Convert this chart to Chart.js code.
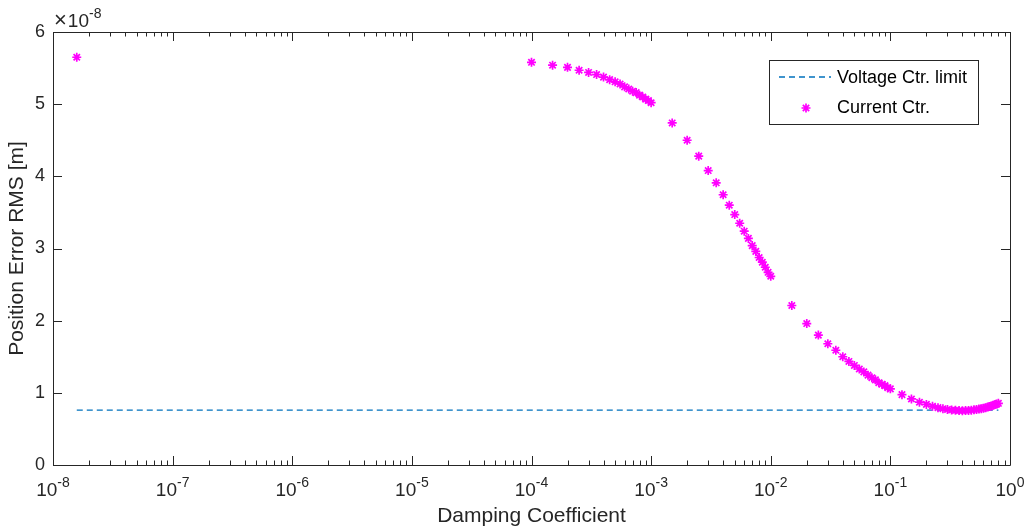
<!DOCTYPE html>
<html>
<head>
<meta charset="utf-8">
<script src="https://cdn.jsdelivr.net/npm/chart.js@4.4.1/dist/chart.umd.min.js"></script>
<style>
  body { margin: 0; background: #fff; }
  #wrap { width: 1030px; height: 532px; }
</style>
</head>
<body>
<div id="wrap"><canvas id="chart" width="1030" height="532"></canvas></div>
<script>
// values are in units of 1e-8 m (axis multiplier shown top-left)
const dampingCoeffs = [
  1.58e-8,
  1e-4, 1.5e-4, 2e-4, 2.5e-4, 3e-4, 3.5e-4, 4e-4, 4.5e-4, 5e-4, 5.5e-4,
  6e-4, 6.5e-4, 7e-4, 7.5e-4, 8e-4, 8.5e-4, 9e-4, 9.5e-4, 1e-3,
  1.5e-3, 2e-3, 2.5e-3, 3e-3, 3.5e-3, 4e-3, 4.5e-3, 5e-3, 5.5e-3,
  6e-3, 6.5e-3, 7e-3, 7.5e-3, 8e-3, 8.5e-3, 9e-3, 9.5e-3, 1e-2,
  1.5e-2, 2e-2, 2.5e-2, 3e-2, 3.5e-2, 4e-2, 4.5e-2, 5e-2, 5.5e-2,
  6e-2, 6.5e-2, 7e-2, 7.5e-2, 8e-2, 8.5e-2, 9e-2, 9.5e-2, 1e-1,
  0.125, 0.15, 0.175, 0.2, 0.225, 0.25, 0.275, 0.3, 0.325, 0.35,
  0.375, 0.4, 0.425, 0.45, 0.475, 0.5, 0.525, 0.55, 0.575, 0.6,
  0.625, 0.65, 0.675, 0.7, 0.725, 0.75, 0.775, 0.8
];
const positionErrorRms = [
  5.65,
  5.58, 5.54, 5.51, 5.47, 5.44, 5.41, 5.375, 5.34, 5.31, 5.28,
  5.24, 5.21, 5.18, 5.16, 5.125, 5.10, 5.07, 5.05, 5.02,
  4.74, 4.50, 4.28, 4.08, 3.91, 3.745, 3.60, 3.47, 3.35,
  3.24, 3.14, 3.04, 2.96, 2.875, 2.81, 2.74, 2.67, 2.615,
  2.21, 1.96, 1.80, 1.68, 1.59, 1.50, 1.435, 1.38, 1.33,
  1.29, 1.245, 1.21, 1.18, 1.14, 1.12, 1.10, 1.07, 1.055,
  0.975, 0.915, 0.87, 0.84, 0.815, 0.795, 0.78, 0.77, 0.762, 0.757,
  0.754, 0.753, 0.754, 0.756, 0.76, 0.764, 0.77, 0.775, 0.781, 0.788,
  0.795, 0.803, 0.811, 0.819, 0.828, 0.837, 0.846, 0.855
];
const voltageLimitX = [1.58e-8, 0.8];
const voltageLimitY = [0.76, 0.76];
const yTickValues = [0, 1, 2, 3, 4, 5, 6];
const xDecades = [-8, -7, -6, -5, -4, -3, -2, -1, 0];

const FONT = "'Liberation Sans', Arial, Helvetica, sans-serif";
const AXIS = "#262626";

// box, inward ticks, x labels with superscripts, exponent, legend
const matlabAxes = {
  id: "matlabAxes",
  afterDraw(chart) {
    const ctx = chart.ctx;
    const a = chart.chartArea;
    const xs = chart.scales.x;
    const ys = chart.scales.y;
    ctx.save();
    ctx.strokeStyle = AXIS;
    ctx.lineWidth = 1;
    ctx.beginPath();
    ctx.rect(Math.round(a.left) + 0.5, Math.round(a.top) + 0.5,
      Math.round(a.right - a.left), Math.round(a.bottom - a.top));
    ctx.stroke();

    // x ticks
    ctx.beginPath();
    xDecades.forEach(k => {
      const px = Math.round(xs.getPixelForValue(Math.pow(10, k))) + 0.5;
      ctx.moveTo(px, a.bottom); ctx.lineTo(px, a.bottom - 9);
      ctx.moveTo(px, a.top); ctx.lineTo(px, a.top + 9);
      if (k < 0) {
        for (let m = 2; m <= 9; m++) {
          const mx = Math.round(xs.getPixelForValue(m * Math.pow(10, k))) + 0.5;
          ctx.moveTo(mx, a.bottom); ctx.lineTo(mx, a.bottom - 4.5);
          ctx.moveTo(mx, a.top); ctx.lineTo(mx, a.top + 4.5);
        }
      }
    });
    // y ticks
    yTickValues.forEach(v => {
      const py = Math.round(ys.getPixelForValue(v)) + 0.5;
      ctx.moveTo(a.left, py); ctx.lineTo(a.left + 9, py);
      ctx.moveTo(a.right, py); ctx.lineTo(a.right - 9, py);
    });
    ctx.stroke();

    // x tick labels 10^k
    ctx.fillStyle = AXIS;
    ctx.textBaseline = "alphabetic";
    ctx.textAlign = "left";
    xDecades.forEach(k => {
      const px = xs.getPixelForValue(Math.pow(10, k));
      const sup = String(k);
      ctx.font = "19px " + FONT;
      const wBase = ctx.measureText("10").width;
      ctx.font = "14px " + FONT;
      const wSup = ctx.measureText(sup).width;
      const x0 = px - (wBase + wSup) / 2;
      ctx.font = "19px " + FONT;
      ctx.fillText("10", x0, a.bottom + 31);
      ctx.font = "14px " + FONT;
      ctx.fillText(sup, x0 + wBase, a.bottom + 22);
    });

    // exponent label
    ctx.font = "22px " + FONT;
    const wx = ctx.measureText("\u00d7").width;
    ctx.fillText("\u00d7", a.left + 1, a.top - 5);
    ctx.font = "19px " + FONT;
    const w10 = ctx.measureText("10").width;
    ctx.fillText("10", a.left + 2 + wx, a.top - 5);
    ctx.font = "14px " + FONT;
    ctx.fillText("-8", a.left + 2 + wx + w10, a.top - 14);

    // legend
    const lx = a.right - 241, ly = a.top + 28, lw = 209, lh = 64;
    ctx.fillStyle = "#fff";
    ctx.fillRect(lx, ly, lw, lh);
    ctx.strokeStyle = AXIS;
    ctx.strokeRect(lx + 0.5, ly + 0.5, lw, lh);
    const ds = chart.data.datasets;
    ctx.font = "18px " + FONT;
    ctx.textBaseline = "middle";
    ctx.fillStyle = "#000";
    // entry 1: dashed line
    ctx.strokeStyle = ds[0].borderColor;
    ctx.lineWidth = 1.5;
    ctx.setLineDash(ds[0].borderDash);
    ctx.beginPath();
    ctx.moveTo(lx + 10, ly + 17);
    ctx.lineTo(lx + 62, ly + 17);
    ctx.stroke();
    ctx.setLineDash([]);
    ctx.fillText(ds[0].label, lx + 68, ly + 18);
    // entry 2: star marker
    ctx.strokeStyle = ds[1].borderColor;
    ctx.lineWidth = ds[1].borderWidth;
    Chart.helpers.drawPoint(ctx, {
      pointStyle: "star", radius: ds[1].pointRadius, rotation: 0, borderWidth: ds[1].borderWidth
    }, lx + 37, ly + 48);
    ctx.fillText(ds[1].label, lx + 68, ly + 48.5);
    ctx.restore();
  }
};

new Chart(document.getElementById("chart"), {
  type: "scatter",
  data: {
    datasets: [
      {
        label: "Voltage Ctr. limit",
        data: voltageLimitX.map((x, i) => ({ x, y: voltageLimitY[i] })),
        showLine: true,
        borderColor: "#0072BD",
        borderWidth: 1.2,
        borderDash: [6, 4],
        pointRadius: 0,
        order: 2
      },
      {
        label: "Current Ctr.",
        data: dampingCoeffs.map((x, i) => ({ x, y: positionErrorRms[i] })),
        showLine: false,
        pointStyle: "star",
        pointRadius: 4.5,
        borderColor: "#FF00FF",
        backgroundColor: "#FF00FF",
        borderWidth: 1.7,
        order: 1
      }
    ]
  },
  options: {
    responsive: false,
    animation: false,
    layout: { padding: { top: 32, right: 20, left: 0, bottom: 0 } },
    plugins: { legend: { display: false }, tooltip: { enabled: false } },
    scales: {
      x: {
        type: "logarithmic",
        min: 1e-8,
        max: 1,
        grid: { display: false },
        border: { display: false },
        ticks: { display: false },
        title: {
          display: true,
          text: "Damping Coefficient",
          color: AXIS,
          font: { family: FONT, size: 21 },
          padding: { top: 0, bottom: 3 }
        },
        afterFit: s => { s.height = 67; }
      },
      y: {
        min: 0,
        max: 6,
        grid: { display: false, drawTicks: false },
        border: { display: false },
        ticks: {
          stepSize: 1,
          color: AXIS,
          padding: 8,
          font: { family: FONT, size: 18 }
        },
        title: {
          display: true,
          text: "Position Error RMS [m]",
          color: AXIS,
          font: { family: FONT, size: 21 },
          padding: { top: 5, bottom: 0 }
        },
        afterFit: s => { s.width = 53; }
      }
    }
  },
  plugins: [matlabAxes]
});
</script>
</body>
</html>
